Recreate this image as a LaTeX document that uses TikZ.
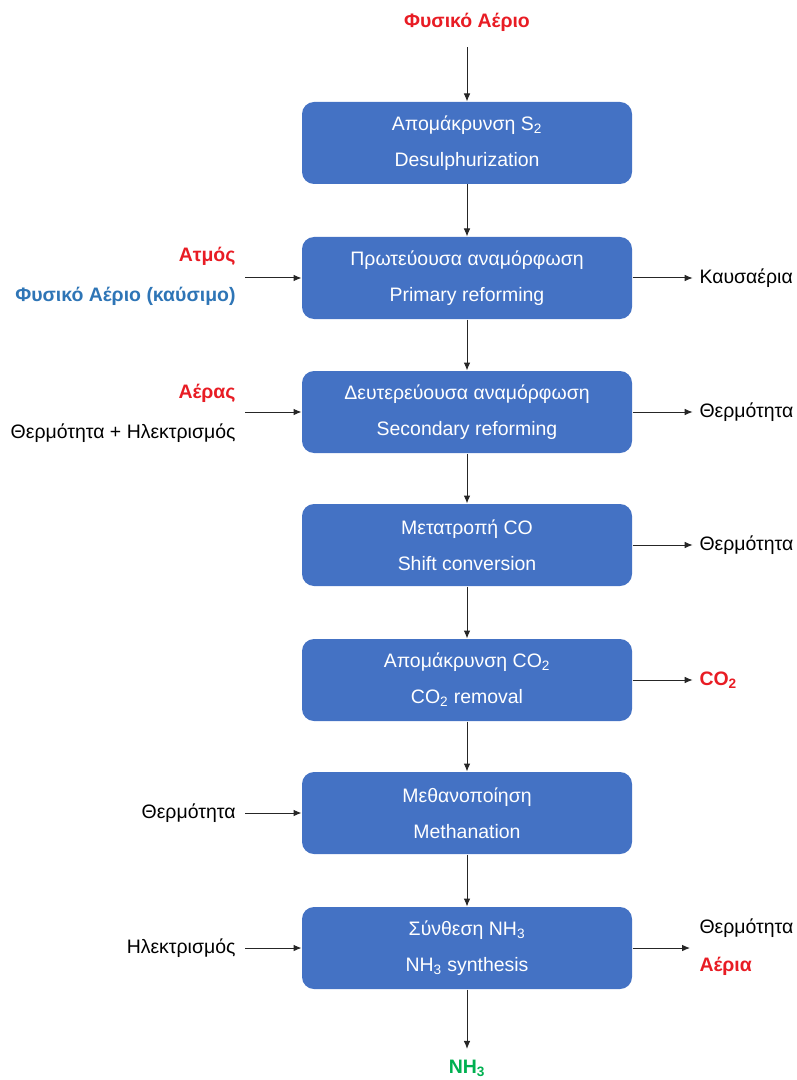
\documentclass[tikz,border=0pt]{standalone}
\usepackage{fontspec}
\setmainfont{Liberation Sans}
\usetikzlibrary{arrows.meta}
\definecolor{boxblue}{RGB}{68,114,196}
\definecolor{inred}{RGB}{232,28,36}
\definecolor{fuelblue}{RGB}{46,117,182}
\definecolor{nhgreen}{RGB}{0,176,80}
\tikzset{every picture/.style={line width=0.75pt}}

\begin{document}
\begin{tikzpicture}[x=0.75pt,y=0.75pt,yscale=-1,xscale=1,
  proc/.style={fill=boxblue, rounded corners=9pt, minimum width=247.5pt, minimum height=61.5pt, inner sep=0pt, text=white, align=center, font=\fontsize{14.6}{27}\selectfont},
  lbl/.style={inner sep=0.75pt, font=\fontsize{14.6}{18}\selectfont},
  hot/.style={lbl, text=inred, font=\fontsize{14.6}{18}\selectfont\bfseries},
  flow/.style={-{Latex[length=6pt,width=5pt]}, draw=black!85}]
\useasboundingbox (0,0) rectangle (796,1080);

%Shape: Process boxes
\node[proc] (desulf)  at (467,143) {Απομάκρυνση S\textsubscript{2}\\Desulphurization};
\node[proc] (primary) at (467,278) {Πρωτεύουσα αναμόρφωση\\Primary reforming};
\node[proc] (second)  at (467,412) {Δευτερεύουσα αναμόρφωση\\Secondary reforming};
\node[proc] (shift)   at (467,545) {Μετατροπή CO\\Shift conversion};
\node[proc] (coremov) at (467,680) {Απομάκρυνση CO\textsubscript{2}\\CO\textsubscript{2} removal};
\node[proc] (methan)  at (467,813) {Μεθανοποίηση\\Methanation};
\node[proc] (synth)   at (467,948) {Σύνθεση NH\textsubscript{3}\\NH\textsubscript{3} synthesis};

% Text Node
\node[hot] (gasin) at (467,22) {Φυσικό Αέριο};
% Text Node
\node[hot, anchor=east] (steam) at (237,256) {Ατμός};
% Text Node
\node[lbl, anchor=east, text=fuelblue, font=\fontsize{14.6}{18}\selectfont\bfseries] (fuel) at (237,296) {Φυσικό Αέριο (καύσιμο)};
% Text Node
\node[hot, anchor=east] (air) at (237,393) {Αέρας};
% Text Node
\node[lbl, anchor=east] (heatel) at (237,433) {Θερμότητα + Ηλεκτρισμός};
% Text Node
\node[lbl, anchor=east] (heatin) at (237,813) {Θερμότητα};
% Text Node
\node[lbl, anchor=east] (elin) at (237,948) {Ηλεκτρισμός};
% Text Node
\node[lbl, anchor=west] (flue) at (698,278) {Καυσαέρια};
% Text Node
\node[lbl, anchor=west] (heat3) at (698,412) {Θερμότητα};
% Text Node
\node[lbl, anchor=west] (heat4) at (698,545) {Θερμότητα};
% Text Node
\node[hot, anchor=west] (coout) at (698,680) {CO\textsubscript{2}};
% Text Node
\node[lbl, anchor=west] (heat7) at (698,928) {Θερμότητα};
% Text Node
\node[hot, anchor=west] (gases) at (698,966) {Αέρια};
% Text Node
\node[lbl, text=nhgreen, font=\fontsize{14.6}{18}\selectfont\bfseries] (nh3) at (467,1068) {NH\textsubscript{3}};

\coordinate (feed2) at (245,278);
\coordinate (feed3) at (245,412);
\coordinate (purge) at (690,948);

%Straight Lines: main train
\draw[flow, shorten <=11pt] (gasin) -- (desulf);
\draw[flow] (desulf) -- (primary);
\draw[flow] (primary) -- (second);
\draw[flow] (second) -- (shift);
\draw[flow] (shift) -- (coremov);
\draw[flow] (coremov) -- (methan);
\draw[flow] (methan) -- (synth);
\draw[flow, shorten >=7pt] (synth) -- (nh3);

%Straight Lines: side streams
\draw[flow] (feed2) -- (primary);
\draw[flow] (feed3) -- (second);
\draw[flow, shorten <=6pt] (heatin) -- (methan);
\draw[flow, shorten <=6pt] (elin) -- (synth);
\draw[flow, shorten >=4pt] (primary) -- (flue);
\draw[flow, shorten >=4pt] (second) -- (heat3);
\draw[flow, shorten >=4pt] (shift) -- (heat4);
\draw[flow, shorten >=4pt] (coremov) -- (coout);
\draw[flow] (synth) -- (purge);

\end{tikzpicture}
\end{document}
